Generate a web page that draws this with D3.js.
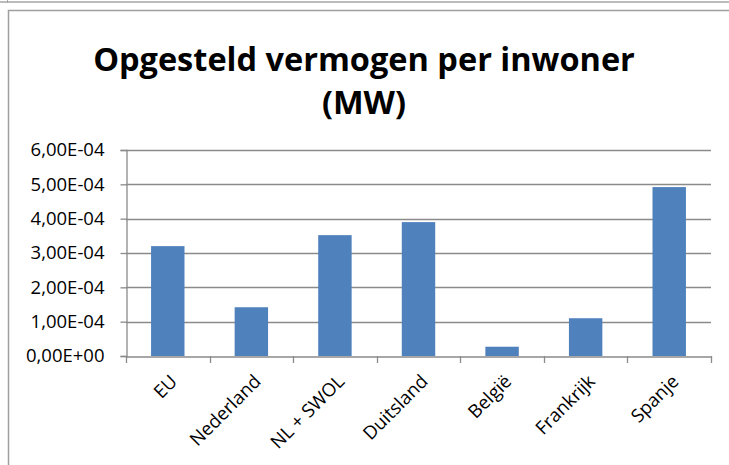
<!DOCTYPE html>
<html><head><meta charset="utf-8">
<script src="https://cdn.jsdelivr.net/npm/d3@7"></script>
<style>body{margin:0;background:#fff}svg{display:block}</style>
</head><body>
<script>
const categories = ["EU","Nederland","NL + SWOL","Duitsland","België","Frankrijk","Spanje"];
const values = [3.20e-4, 1.42e-4, 3.52e-4, 3.90e-4, 0.27e-4, 1.10e-4, 4.92e-4];
const yTicks = [0, 1e-4, 2e-4, 3e-4, 4e-4, 5e-4, 6e-4];
const tickLabels = ["0,00E+00","1,00E-04","2,00E-04","3,00E-04","4,00E-04","5,00E-04","6,00E-04"];
const titleLines = ["Opgesteld vermogen per inwoner","(MW)"];

const W = 729, H = 465;
const font = "'Open Sans', sans-serif";
const svg = d3.select("body").append("svg").attr("width", W).attr("height", H);

// frames
svg.append("line").attr("x1",0).attr("x2",W).attr("y1",2).attr("y2",2).attr("stroke","#a6a6a6").attr("stroke-width",1.5);
svg.append("line").attr("x1",7.5).attr("x2",7.5).attr("y1",0).attr("y2",3).attr("stroke","#a6a6a6");
svg.append("rect").attr("x",8.5).attr("y",10.5).attr("width",800).attr("height",600)
  .attr("fill","none").attr("stroke","#9f9f9f").attr("stroke-width",1.5);

const plot = {left:126, right:711, top:150, bottom:356};
const x = d3.scaleBand().domain(categories).range([plot.left, plot.right]).paddingInner(0.6).paddingOuter(0.3);
const xb = d3.scaleBand().domain(categories).range([plot.left, plot.right]);
const y = d3.scaleLinear().domain([0, 6e-4]).range([plot.bottom, plot.top]);

// gridlines
svg.append("g").selectAll("line").data(yTicks.slice(1)).join("line")
  .attr("x1", plot.left).attr("x2", plot.right)
  .attr("y1", d => Math.round(y(d))+0.5).attr("y2", d => Math.round(y(d))+0.5)
  .attr("stroke","#8a8a8a").attr("stroke-width",1.3);

// bars
svg.append("g").selectAll("rect").data(values).join("rect")
  .attr("x", (d,i) => x(categories[i])).attr("width", x.bandwidth())
  .attr("y", d => y(d)).attr("height", d => y(0) - y(d))
  .attr("fill","#4f81bd");

// y axis
const yAxis = d3.axisLeft(y).tickValues(yTicks).tickSize(6).tickPadding(16)
  .tickFormat((d,i) => tickLabels[i]);
const gy = svg.append("g").attr("transform",`translate(${plot.left+0.5},0)`).call(yAxis);
gy.select(".domain").attr("stroke","#8a8a8a").attr("stroke-width",1.3);
gy.selectAll(".tick line").attr("stroke","#8a8a8a").attr("stroke-width",1.3);
gy.selectAll("text").attr("font-family",font).attr("font-size",18.5).attr("fill","#000");

// x axis
const xAxis = d3.axisBottom(xb).tickSize(0).tickFormat("");
const gx = svg.append("g").attr("transform",`translate(0,${plot.bottom+0.5})`).call(xAxis);
gx.select(".domain").attr("stroke","#8a8a8a").attr("stroke-width",1.3);
const bounds = categories.map(c => xb(c)).concat([plot.right]);
svg.append("g").selectAll("line").data(bounds).join("line")
  .attr("x1", d => Math.round(d)+0.5).attr("x2", d => Math.round(d)+0.5)
  .attr("y1", plot.bottom).attr("y2", plot.bottom+7)
  .attr("stroke","#8a8a8a").attr("stroke-width",1.3);

svg.append("g").selectAll("text").data(categories).join("text")
  .attr("transform", d => `translate(${xb(d)+xb.bandwidth()/2+6},${plot.bottom+22}) rotate(-45)`)
  .attr("text-anchor","end").attr("dy","0.35em")
  .attr("font-family",font).attr("font-size",18.5).attr("fill","#000")
  .text(d => d);

// title
svg.append("g").selectAll("text").data(titleLines).join("text")
  .attr("x", 364).attr("y", (d,i) => 71 + i*43)
  .attr("text-anchor","middle").attr("font-family",font).attr("font-weight","bold")
  .attr("font-size",32.5).attr("fill","#000").text(d => d);
</script>
</body></html>
